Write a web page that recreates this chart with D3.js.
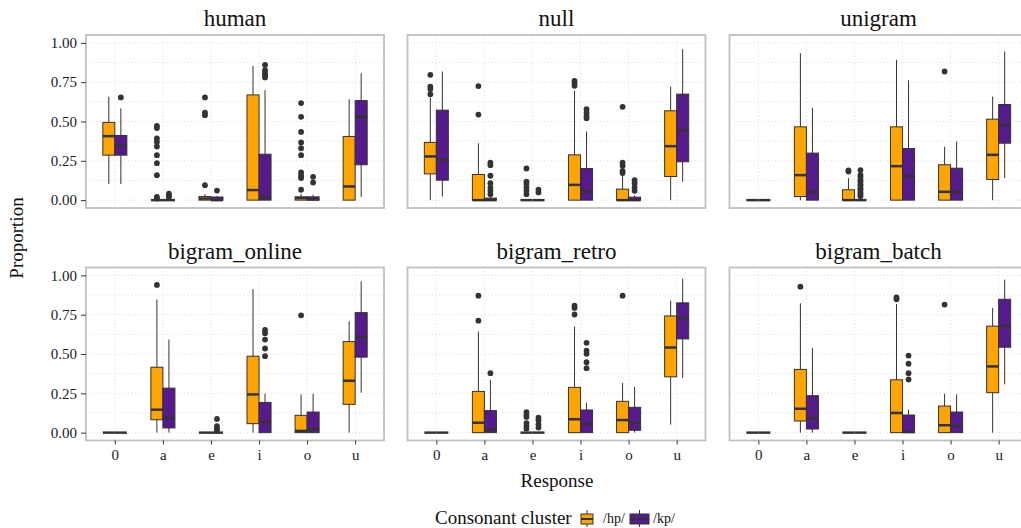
<!DOCTYPE html>
<html lang="en">
<head>
<meta charset="UTF-8">
<title>Proportion by response</title>
<script src="https://d3js.org/d3.v7.min.js"></script>
<style>
    html, body {
        margin: 0;
        padding: 0;
        background: #fff;
    }
    svg text {
        font-family: 'Liberation Serif', 'Times New Roman', serif;
        fill: #111;
    }
    .tick text {
        fill: #1a1a1a;
    }
</style>
</head>
<body>
<div id="chart"></div>
<script>

// facets, categories, groups
var panels = ["human", "null", "unigram", "bigram_online", "bigram_retro", "bigram_batch"];
var responses = ["0", "a", "e", "i", "o", "u"];
var clusters = ["/hp/", "/kp/"];
var yTicks = [0, 0.25, 0.5, 0.75, 1];
var yMinor = [0.125, 0.375, 0.625, 0.875];
var clusterColors = ["#ffa500", "#551a8b"];

// rows: response, cluster, lower whisker, q1, median, q3, upper whisker, outliers
var human = [
    ["0", "/hp/", 0.102, 0.286, 0.407, 0.494, 0.657, []],
    ["0", "/kp/", 0.102, 0.286, 0.347, 0.411, 0.583, [0.653]],
    ["a", "/hp/", 0, 0, 0, 0, 0, [0.472, 0.458, 0.392, 0.37, 0.341, 0.286, 0.235, 0.159, 0.021, 0.01]],
    ["a", "/kp/", 0, 0, 0, 0, 0, [0.042, 0.03, 0.02]],
    ["e", "/hp/", 0, 0, 0.01, 0.023, 0.038, [0.653, 0.557, 0.54, 0.095]],
    ["e", "/kp/", 0, 0, 0, 0.02, 0.025, [0.061]],
    ["i", "/hp/", 0, 0, 0.064, 0.669, 0.854, []],
    ["i", "/kp/", 0, 0, 0.019, 0.292, 0.699, [0.86, 0.826, 0.807, 0.794, 0.78]],
    ["o", "/hp/", 0, 0, 0.013, 0.021, 0.04, [0.617, 0.53, 0.434, 0.367, 0.33, 0.286, 0.176, 0.155, 0.14, 0.066]],
    ["o", "/kp/", 0, 0, 0.005, 0.021, 0.035, [0.148, 0.112]],
    ["u", "/hp/", 0, 0, 0.087, 0.405, 0.642, []],
    ["u", "/kp/", 0.021, 0.225, 0.53, 0.633, 0.807, []]
];

var nullModel = [
    ["0", "/hp/", 0, 0.167, 0.278, 0.367, 0.653, [0.797, 0.722, 0.706, 0.674]],
    ["0", "/kp/", 0.023, 0.127, 0.258, 0.572, 0.818, []],
    ["a", "/hp/", 0, 0, 0, 0.163, 0.362, [0.725, 0.544]],
    ["a", "/kp/", 0, 0, 0, 0.013, 0.02, [0.239, 0.222, 0.155, 0.108, 0.08, 0.059, 0.038]],
    ["e", "/hp/", 0, 0, 0, 0, 0, [0.201, 0.117, 0.102, 0.08, 0.059, 0.038]],
    ["e", "/kp/", 0, 0, 0, 0, 0, [0.066, 0.049]],
    ["i", "/hp/", 0, 0, 0.097, 0.288, 0.695, [0.758, 0.744, 0.727]],
    ["i", "/kp/", 0, 0, 0.055, 0.201, 0.436, [0.578, 0.557, 0.536, 0.521]],
    ["o", "/hp/", 0, 0, 0, 0.07, 0.16, [0.593, 0.239, 0.218, 0.186, 0.172]],
    ["o", "/kp/", 0, 0, 0, 0.019, 0.03, [0.127, 0.106, 0.08, 0.059]],
    ["u", "/hp/", 0, 0.15, 0.343, 0.568, 0.722, []],
    ["u", "/kp/", 0.117, 0.244, 0.447, 0.674, 0.96, []]
];

var unigram = [
    ["0", "/hp/", 0, 0, 0, 0, 0, []],
    ["0", "/kp/", 0, 0, 0, 0, 0, []],
    ["a", "/hp/", 0, 0.023, 0.159, 0.466, 0.934, []],
    ["a", "/kp/", 0, 0, 0.053, 0.299, 0.587, []],
    ["e", "/hp/", 0, 0, 0, 0.066, 0.14, [0.189, 0.182]],
    ["e", "/kp/", 0, 0, 0, 0, 0, [0.191, 0.16, 0.148, 0.13, 0.117, 0.1, 0.091, 0.075, 0.066, 0.05, 0.038, 0.025]],
    ["i", "/hp/", 0, 0, 0.216, 0.466, 0.892, []],
    ["i", "/kp/", 0, 0, 0.15, 0.328, 0.761, []],
    ["o", "/hp/", 0, 0, 0.053, 0.225, 0.339, [0.818]],
    ["o", "/kp/", 0, 0, 0.053, 0.203, 0.373, []],
    ["u", "/hp/", 0, 0.131, 0.288, 0.515, 0.659, []],
    ["u", "/kp/", 0.14, 0.362, 0.479, 0.608, 0.945, []]
];

var bigramOnline = [
    ["0", "/hp/", 0, 0, 0, 0, 0, []],
    ["0", "/kp/", 0, 0, 0, 0, 0, []],
    ["a", "/hp/", 0, 0.082, 0.146, 0.416, 0.846, [0.939]],
    ["a", "/kp/", 0, 0.03, 0.093, 0.283, 0.592, []],
    ["e", "/hp/", 0, 0, 0, 0, 0, []],
    ["e", "/kp/", 0, 0, 0, 0, 0, [0.087, 0.042, 0.025, 0.015]],
    ["i", "/hp/", 0, 0.057, 0.243, 0.486, 0.913, []],
    ["i", "/kp/", 0, 0, 0.068, 0.192, 0.247, [0.653, 0.632, 0.592, 0.535, 0.486]],
    ["o", "/hp/", 0, 0, 0.011, 0.11, 0.243, [0.746]],
    ["o", "/kp/", 0, 0, 0.021, 0.131, 0.247, []],
    ["u", "/hp/", 0, 0.18, 0.33, 0.579, 0.708, []],
    ["u", "/kp/", 0.254, 0.48, 0.607, 0.763, 0.962, []]
];

var bigramRetro = [
    ["0", "/hp/", 0, 0, 0, 0, 0, []],
    ["0", "/kp/", 0, 0, 0, 0, 0, []],
    ["a", "/hp/", 0, 0, 0.063, 0.262, 0.643, [0.871, 0.712]],
    ["a", "/kp/", 0, 0, 0.017, 0.14, 0.336, [0.378]],
    ["e", "/hp/", 0, 0, 0, 0, 0, [0.131, 0.114, 0.1, 0.061, 0.042, 0.025]],
    ["e", "/kp/", 0, 0, 0, 0, 0, [0.095, 0.078, 0.053, 0.032]],
    ["i", "/hp/", 0, 0, 0.085, 0.288, 0.674, [0.808, 0.793, 0.751]],
    ["i", "/kp/", 0, 0, 0.055, 0.144, 0.19, [0.571, 0.522, 0.501, 0.448, 0.41]],
    ["o", "/hp/", 0, 0, 0.08, 0.199, 0.315, [0.871]],
    ["o", "/kp/", 0, 0.015, 0.063, 0.161, 0.29, []],
    ["u", "/hp/", 0.051, 0.355, 0.541, 0.742, 0.839, []],
    ["u", "/kp/", 0.347, 0.596, 0.727, 0.825, 0.979, []]
];

var bigramBatch = [
    ["0", "/hp/", 0, 0, 0, 0, 0, []],
    ["0", "/kp/", 0, 0, 0, 0, 0, []],
    ["a", "/hp/", 0, 0.074, 0.152, 0.402, 0.822, [0.928]],
    ["a", "/kp/", 0, 0.023, 0.093, 0.235, 0.537, []],
    ["e", "/hp/", 0, 0, 0, 0, 0, []],
    ["e", "/kp/", 0, 0, 0, 0, 0, []],
    ["i", "/hp/", 0, 0, 0.125, 0.336, 0.818, [0.86, 0.848]],
    ["i", "/kp/", 0, 0, 0.004, 0.112, 0.146, [0.49, 0.438, 0.378, 0.338]],
    ["o", "/hp/", 0, 0, 0.047, 0.169, 0.247, [0.814]],
    ["o", "/kp/", 0, 0, 0.042, 0.131, 0.243, []],
    ["u", "/hp/", 0, 0.254, 0.421, 0.677, 0.793, []],
    ["u", "/kp/", 0.307, 0.543, 0.677, 0.848, 0.973, []]
];

var panelData = [human, nullModel, unigram, bigramOnline, bigramRetro, bigramBatch];

var W = 1021, H = 528;
var panelW = 298, panelH = 173;
var colX = [86, 407.5, 729.5];
var rowY = [35, 267.5];

var svg = d3.select("#chart")
    .append("svg")
    .attr("width", W)
    .attr("height", H);

var color = d3.scaleOrdinal()
    .domain(clusters)
    .range(clusterColors);

var x = d3.scalePoint()
    .domain(responses)
    .range([0, panelW])
    .padding(0.6);

var step = x.step();
var boxW = step * 0.25;
var dodge = d3.scaleBand()
    .domain(clusters)
    .range([-boxW, boxW]);

var y = d3.scaleLinear()
    .domain([-0.05, 1.05])
    .range([panelH, 0]);

panels.forEach(function(name, i) {
    var col = i % 3, row = Math.floor(i / 3);
    var g = svg.append("g")
        .attr("transform", "translate(" + colX[col] + "," + rowY[row] + ")");

    // grid
    g.selectAll(".hgrid")
        .data(yTicks.concat(yMinor))
        .enter().append("line")
        .attr("x1", 0).attr("x2", panelW)
        .attr("y1", function(d) { return y(d); })
        .attr("y2", function(d) { return y(d); })
        .attr("stroke", "#d6d6d6")
        .attr("stroke-width", 0.8)
        .attr("stroke-dasharray", "1,2.5");
    g.selectAll(".vgrid")
        .data(responses)
        .enter().append("line")
        .attr("y1", 0).attr("y2", panelH)
        .attr("x1", function(d) { return x(d); })
        .attr("x2", function(d) { return x(d); })
        .attr("stroke", "#d6d6d6")
        .attr("stroke-width", 0.8)
        .attr("stroke-dasharray", "1,2.5");

    var rows = panelData[i];
    var boxes = g.selectAll(".box")
        .data(rows)
        .enter().append("g")
        .attr("transform", function(d) {
            return "translate(" + (x(d[0]) + dodge(d[1])) + ",0)";
        });

    // whiskers
    boxes.append("line")
        .attr("x1", boxW / 2).attr("x2", boxW / 2)
        .attr("y1", function(d) { return y(d[6]); })
        .attr("y2", function(d) { return y(d[2]); })
        .attr("stroke", "#333")
        .attr("stroke-width", 1);

    boxes.append("rect")
        .attr("x", 0)
        .attr("width", boxW)
        .attr("y", function(d) { return y(d[5]); })
        .attr("height", function(d) { return y(d[3]) - y(d[5]); })
        .attr("fill", function(d) { return color(d[1]); })
        .attr("stroke", "#333")
        .attr("stroke-width", 1);

    boxes.append("line")
        .attr("x1", 0).attr("x2", boxW)
        .attr("y1", function(d) { return y(d[4]); })
        .attr("y2", function(d) { return y(d[4]); })
        .attr("stroke", "#333")
        .attr("stroke-width", 2.5);

    boxes.selectAll(".out")
        .data(function(d) { return d[7]; })
        .enter().append("circle")
        .attr("cx", boxW / 2)
        .attr("cy", function(d) { return y(d); })
        .attr("r", 2.9)
        .attr("fill", "#333");

    // border
    g.append("rect")
        .attr("width", panelW)
        .attr("height", panelH)
        .attr("fill", "none")
        .attr("stroke", "#c0c0c0")
        .attr("stroke-width", 1.8);

    // strip title
    g.append("text")
        .attr("x", panelW / 2)
        .attr("y", -9)
        .attr("text-anchor", "middle")
        .style("font-size", "23px")
        .text(name);

    if (col == 0) {
        var ya = g.append("g")
            .call(d3.axisLeft(y).tickValues(yTicks).tickFormat(d3.format(".2f")).tickSize(5).tickPadding(4));
        ya.select(".domain").remove();
        ya.selectAll("line").attr("stroke", "#333");
        ya.selectAll("text").style("font-size", "15px");
    }
    if (row == 1) {
        var xa = g.append("g")
            .attr("transform", "translate(0," + panelH + ")")
            .call(d3.axisBottom(x).tickSize(4).tickPadding(5));
        xa.select(".domain").remove();
        xa.selectAll("line").attr("stroke", "#333");
        xa.selectAll("text").style("font-size", "15px");
    }
});

// axis titles
svg.append("text")
    .attr("x", 557)
    .attr("y", 487)
    .attr("text-anchor", "middle")
    .style("font-size", "19px")
    .text("Response");

svg.append("text")
    .attr("transform", "translate(23,238) rotate(-90)")
    .attr("text-anchor", "middle")
    .style("font-size", "19px")
    .text("Proportion");

// legend
var legend = svg.append("g");
legend.append("text")
    .attr("x", 435)
    .attr("y", 524)
    .style("font-size", "19px")
    .text("Consonant cluster");

var keyX = [581, 630];
var keyW = [12, 19];
var labelX = [603, 653];
clusters.forEach(function(c, i) {
    var k = legend.append("g").attr("transform", "translate(" + keyX[i] + ",0)");
    k.append("line")
        .attr("x1", keyW[i] / 2).attr("x2", keyW[i] / 2)
        .attr("y1", 510).attr("y2", 527)
        .attr("stroke", "#333");
    k.append("rect")
        .attr("x", 0).attr("y", 514)
        .attr("width", keyW[i]).attr("height", 10)
        .attr("fill", color(c))
        .attr("stroke", "#333");
    k.append("line")
        .attr("x1", 0).attr("x2", keyW[i])
        .attr("y1", 519).attr("y2", 519)
        .attr("stroke", "#333")
        .attr("stroke-width", 2);
    legend.append("text")
        .attr("x", labelX[i])
        .attr("y", 523)
        .style("font-size", "14px")
        .text(c);
});

</script>
</body>
</html>
